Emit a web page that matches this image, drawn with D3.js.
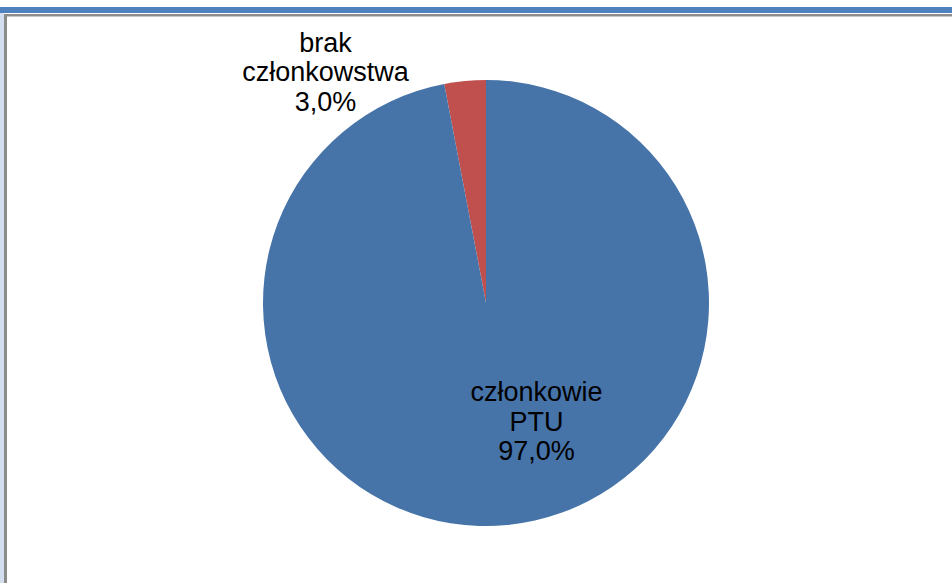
<!DOCTYPE html>
<html>
<head>
<meta charset="utf-8">
<script src="https://cdn.jsdelivr.net/npm/d3@7"></script>
<style>
  body { margin: 0; background: #fff; }
  svg { display: block; }
</style>
</head>
<body>
<svg id="chart"></svg>
<script>
var w = 952; // Width of the SVG element
var h = 583; // Height of the SVG element

// Data
var categories = ["brak członkowstwa", "członkowie PTU"];
var values = [3.0, 97.0];
var labelLines = [["brak", "członkowstwa", "3,0%"], ["członkowie", "PTU", "97,0%"]];
var colors = ["#C0504D", "#4673A8"];

var svg = d3.select("#chart")
  .attr("width", w)
  .attr("height", h);

// window frame: blue title strip, grey lines, pale left strip
svg.append("rect").attr("x", 0).attr("y", 7).attr("width", w).attr("height", 6).attr("fill", "#4F81BD");
svg.append("rect").attr("x", 0).attr("y", 13).attr("width", 4).attr("height", h - 13).attr("fill", "#D3DEEE");
svg.append("rect").attr("x", 4).attr("y", 14).attr("width", w - 4).attr("height", 2).attr("fill", "#8C8C8C");
svg.append("rect").attr("x", 4).attr("y", 14).attr("width", 3).attr("height", h - 14).attr("fill", "#8C8C8C");
svg.append("rect").attr("x", 7).attr("y", 16).attr("width", w - 7).attr("height", 1).attr("fill", "#C8C8C8");

var cx = 486, cy = 303;
var radius = 223;

var g = svg.append("g")
  .attr("transform", "translate(" + cx + "," + cy + ")");

// the small slice ends at 12 o'clock, the big one goes clockwise from there
var total = d3.sum(values);
var pie = d3.pie()
  .sort(null)
  .value(function(d) { return d; })
  .startAngle(-2 * Math.PI * values[0] / total)
  .endAngle(2 * Math.PI - 2 * Math.PI * values[0] / total);

var arc = d3.arc().innerRadius(0).outerRadius(radius);

var arcs = pie(values);

g.selectAll("path")
  .data(arcs)
  .enter()
  .append("path")
  .attr("d", arc)
  .attr("fill", function(d, i) { return colors[i]; });

// label anchors: centroid of the slice, then nudged like Excel's best fit
var labelArc = d3.arc().innerRadius(0).outerRadius(radius);
var nudge = [[-150, -140], [40, -13]];

var labels = g.selectAll(".label")
  .data(arcs)
  .enter()
  .append("text")
  .attr("class", "label")
  .attr("text-anchor", "middle")
  .attr("font-family", "Liberation Sans, Arial, sans-serif")
  .attr("font-size", "27px")
  .attr("fill", "#000")
  .attr("transform", function(d, i) {
    var c = labelArc.centroid(d);
    return "translate(" + (c[0] + nudge[i][0]) + "," + (c[1] + nudge[i][1]) + ")";
  });

labels.each(function(d, i) {
  var t = d3.select(this);
  labelLines[i].forEach(function(line, j) {
    t.append("tspan")
      .attr("x", 0)
      .attr("dy", j === 0 ? 0 : 29.5)
      .text(line);
  });
});
</script>
</body>
</html>
